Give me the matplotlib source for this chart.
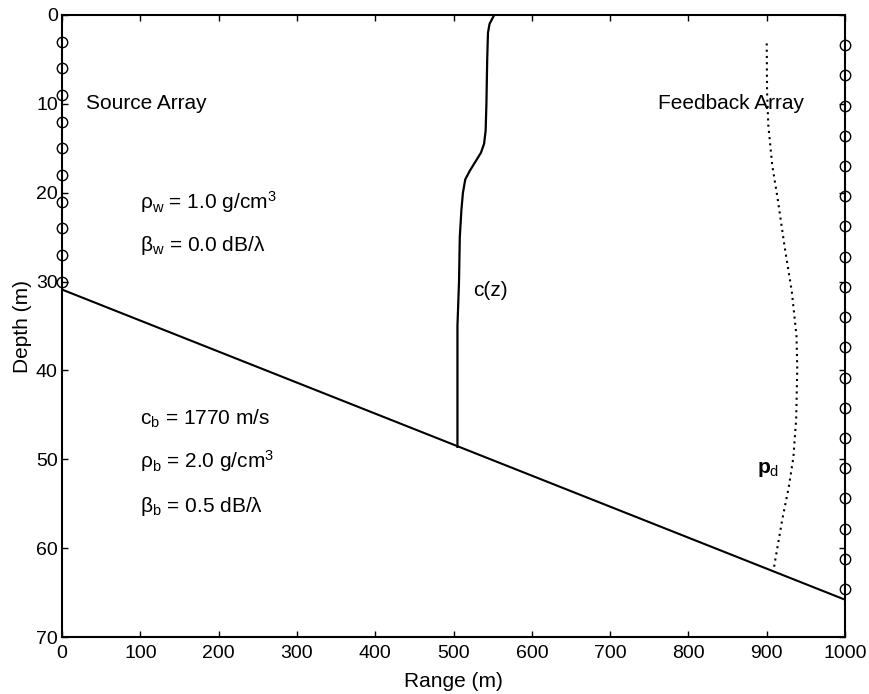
import numpy as np
import matplotlib
matplotlib.use("Agg")
import matplotlib.pyplot as plt

plt.rcParams['font.family'] = ['Liberation Sans', 'DejaVu Sans']
plt.rcParams['mathtext.fontset'] = 'custom'
plt.rcParams['mathtext.rm'] = 'Liberation Sans'
plt.rcParams['mathtext.it'] = 'Liberation Sans'
plt.rcParams['mathtext.bf'] = 'Liberation Sans:bold'

# source array element depths (m), at range 0
source_depth = [3, 6, 9, 12, 15, 18, 21, 24, 27, 30]
# feedback array element depths (m), at range 1000
feedback_depth = [3.4, 6.8, 10.2, 13.6, 17.0, 20.4, 23.8, 27.2, 30.6, 34.0,
                  37.4, 40.8, 44.2, 47.6, 51.0, 54.4, 57.8, 61.2, 64.6]

# sloping bottom
bottom_range = [0, 1000]
bottom_depth = [30.9, 65.8]

# sound speed profile c(z), drawn in range units
cz_depth = [0, 0.5, 1, 2, 5, 10, 13, 14.5, 15.5, 16.5, 17.5, 18.5, 20, 22, 25,
            30, 35, 40, 48.6]
cz_range = [552, 549, 546, 544, 543, 542, 541, 539, 535, 528, 521, 515, 512,
            510, 508, 507, 505, 505, 505]

# desired field p_d
pd_depth = [3.2, 8.6, 12.4, 16.9, 20.7, 26.0, 31.1, 36.1, 39.8, 45.5, 49.8,
            53.2, 56.7, 62.3]
pd_range = [900, 900.4, 902, 907, 914, 922.7, 932, 938, 939, 937.6, 934, 928,
            920, 909]

fig = plt.figure(figsize=(8.7, 6.94), dpi=100)
ax = fig.add_axes([0.0713, 0.0821, 0.90, 0.8963])

ax.plot([0] * len(source_depth), source_depth, '-o', color='black',
        mfc='none', ms=7.5, mew=1.0, lw=1.2, clip_on=False, zorder=5)
ax.plot([1000] * len(feedback_depth), feedback_depth, '-o', color='black',
        mfc='none', ms=7.5, mew=1.0, lw=1.2, clip_on=False, zorder=5)

ax.plot(bottom_range, bottom_depth, color='black', lw=1.5)
ax.plot(cz_range, cz_depth, color='black', lw=1.6)
ax.plot(pd_range, pd_depth, color='black', lw=1.5, linestyle=(0, (1, 2)))

txt = dict(fontsize=15, va='center', ha='left')
ax.text(31, 10, 'Source Array', **txt)
ax.text(761, 10, 'Feedback Array', **txt)
ax.text(100, 21, r'ρ$_{\mathrm{w}}$ = 1.0 g/cm$^{\mathrm{3}}$', **txt)
ax.text(100, 25.9, r'β$_{\mathrm{w}}$ = 0.0 dB/λ', **txt)
ax.text(100, 45.4, r'c$_{\mathrm{b}}$ = 1770 m/s', **txt)
ax.text(100, 50.2, r'ρ$_{\mathrm{b}}$ = 2.0 g/cm$^{\mathrm{3}}$', **txt)
ax.text(100, 55.3, r'β$_{\mathrm{b}}$ = 0.5 dB/λ', **txt)
ax.text(525, 31, 'c(z)', **txt)
ax.text(888, 51.1, r'$\mathbf{p}_{\mathrm{d}}$', **txt)

ax.set_xlim(0, 1000)
ax.set_ylim(70, 0)
ax.set_xticks(np.arange(0, 1001, 100))
ax.set_yticks(np.arange(0, 71, 10))
ax.tick_params(direction='in', top=True, right=True, length=4, width=1,
               labelsize=14)
ax.tick_params(axis='x', pad=6)
ax.tick_params(axis='y', pad=3)
for s in ax.spines.values():
    s.set_linewidth(1.5)

ax.set_xlabel('Range (m)', fontsize=15, labelpad=7)
ax.set_ylabel('Depth (m)', fontsize=15, labelpad=3)

fig.savefig('out.png', dpi=100)
